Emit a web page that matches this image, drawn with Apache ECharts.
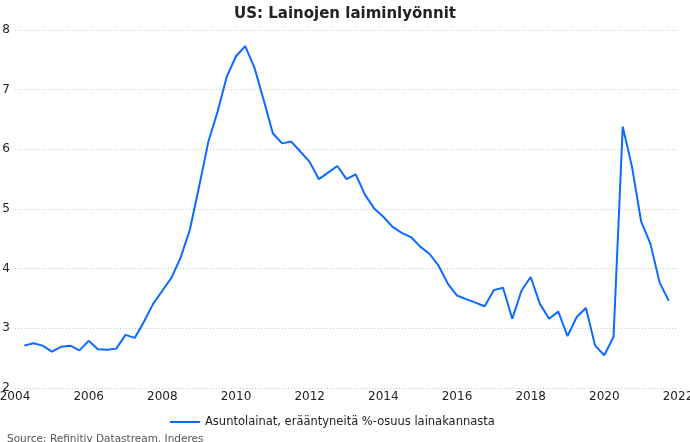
<!DOCTYPE html>
<html>
<head>
<meta charset="utf-8">
<script src="https://cdn.jsdelivr.net/npm/echarts@6/dist/echarts.min.js"></script>
<style>
html,body{margin:0;padding:0;background:#fff;}
#chart{width:690px;height:442px;}
</style>
</head>
<body>
<div id="chart"></div>
<script>
// Quarterly data, first quarter end 2004 Q1, 71 quarters
var startYear = 2004;
var seriesName = 'Asuntolainat, erääntyneitä %-osuus lainakannasta';
var values = [
  2.71, 2.75, 2.71, 2.61, 2.69, 2.71, 2.63, 2.79, 2.65, 2.64,
  2.66, 2.89, 2.84, 3.11, 3.41, 3.63, 3.85, 4.19, 4.66, 5.38,
  6.13, 6.63, 7.22, 7.56, 7.73, 7.37, 6.83, 6.27, 6.10, 6.13,
  5.96, 5.79, 5.50, 5.61, 5.72, 5.50, 5.58, 5.24, 5.01, 4.87,
  4.70, 4.60, 4.53, 4.37, 4.25, 4.05, 3.75, 3.55, 3.49, 3.43,
  3.37, 3.64, 3.68, 3.16, 3.63, 3.86, 3.41, 3.16, 3.28, 2.87,
  3.19, 3.34, 2.71, 2.55, 2.86, 6.38, 5.71, 4.79, 4.42, 3.77,
  3.46
];
var xTicks = [2004, 2006, 2008, 2010, 2012, 2014, 2016, 2018, 2020, 2022];
var yTicks = [2, 3, 4, 5, 6, 7, 8];
var titleText = 'US: Lainojen laiminlyönnit';
var sourceText = 'Source: Refinitiv Datastream. Inderes';

var points = [];
for (var i = 0; i < values.length; i++) {
  var t = startYear + (i + 1) / 4; // quarter end position in decimal years
  points.push([t, values[i]]);
}

var chart = echarts.init(document.getElementById('chart'), null, {renderer: 'canvas'});
chart.setOption({
  backgroundColor: '#ffffff',
  animation: false,
  textStyle: {fontFamily: 'DejaVu Sans'},
  title: [{
    text: titleText,
    left: 'center',
    top: 2,
    textStyle: {fontSize: 15, fontWeight: 'bold', color: '#222', fontFamily: 'DejaVu Sans'}
  }, {
    text: sourceText,
    left: 2,
    top: 429,
    textStyle: {fontSize: 10.5, fontWeight: 'normal', color: '#555', fontFamily: 'DejaVu Sans'}
  }],
  legend: {
    data: [seriesName],
    top: 411,
    left: 165,
    itemWidth: 30,
    itemHeight: 2,
    itemGap: 5,
    icon: 'rect',
    textStyle: {fontSize: 11.5, color: '#222'}
  },
  grid: {left: 15, right: 12, top: 30, bottom: 54, containLabel: false, outerBoundsMode: 'none'},
  xAxis: {
    type: 'value',
    min: xTicks[0],
    max: xTicks[xTicks.length - 1],
    interval: 2,
    axisLine: {show: false},
    axisTick: {show: false},
    splitLine: {show: false},
    axisLabel: {
      fontSize: 12, color: '#222', margin: 3,
      formatter: function (v) { return String(v); }
    }
  },
  yAxis: {
    type: 'value',
    min: yTicks[0],
    max: yTicks[yTicks.length - 1],
    interval: 1,
    axisLine: {show: false},
    axisTick: {show: false},
    axisLabel: {fontSize: 12, color: '#222', margin: 5},
    splitLine: {show: true, lineStyle: {color: '#c8c8c8', type: [1, 2], width: 1}}
  },
  series: [{
    name: seriesName,
    type: 'line',
    data: points,
    showSymbol: false,
    symbol: 'none',
    lineStyle: {color: '#0a6cff', width: 2},
    itemStyle: {color: '#0a6cff'}
  }]
});
</script>
</body>
</html>
